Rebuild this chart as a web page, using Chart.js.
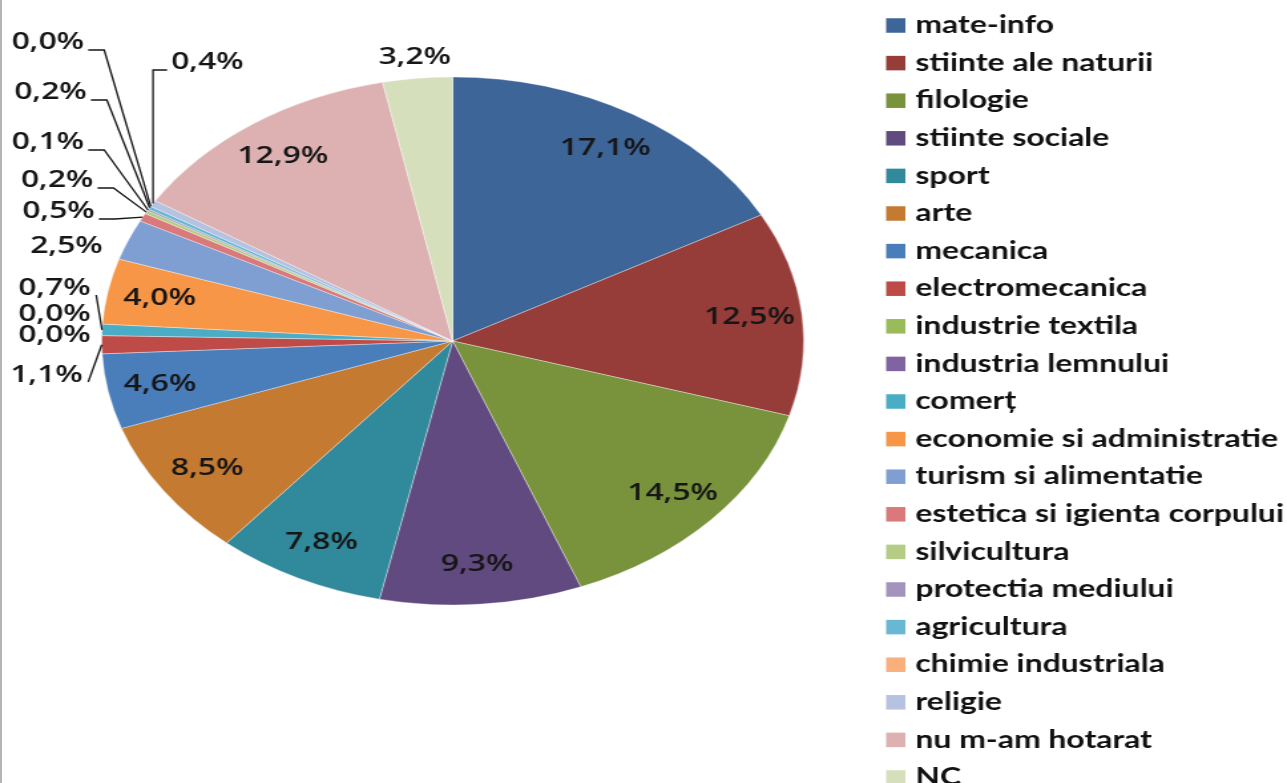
<!DOCTYPE html>
<html lang="ro">
<head>
<meta charset="utf-8">
<title>Optiuni elevi</title>
<script src="https://cdn.jsdelivr.net/npm/chart.js@4.4.1/dist/chart.umd.min.js"></script>
<style>
    html, body { margin: 0; padding: 0; background: #fff; overflow: hidden; }
    #cadru { position: relative; width: 1287px; height: 783px; }
    #margine { position: absolute; left: 0; top: 0; width: 2px; height: 783px; background: #b4b4b4; }
    /* imaginea originala e intinsa pe orizontala, o intindem si noi */
    #grafic { position: absolute; left: 0; top: 0; transform: scaleX(1.3295); transform-origin: 0 0; }
</style>
</head>
<body>
<div id="cadru">
    <canvas id="grafic" width="968" height="783"></canvas>
    <div id="margine"></div>
</div>
<script>
// Date
const categorii = [
    'mate-info', 'stiinte ale naturii', 'filologie', 'stiinte sociale', 'sport', 'arte',
    'mecanica', 'electromecanica', 'industrie textila', 'industria lemnului', 'comerț',
    'economie si administratie', 'turism si alimentatie', 'estetica si igienta corpului',
    'silvicultura', 'protectia mediului', 'agricultura', 'chimie industriala', 'religie',
    'nu m-am hotarat', 'NC'
];
const procente = [17.1, 12.5, 14.5, 9.3, 7.8, 8.5, 4.6, 1.1, 0.0, 0.0, 0.7, 4.0, 2.5, 0.5, 0.2, 0.1, 0.2, 0.0, 0.4, 12.9, 3.2];
const culori = [
    '#3d6597', '#963c39', '#78933c', '#614a80', '#31899c', '#c47a31',
    '#4a7ebb', '#bf4b48', '#9abb59', '#8064a2', '#4bacc6',
    '#f79646', '#7f9fd2', '#d9797b',
    '#b4cc84', '#a393bd', '#69b8d3', '#f9b07c', '#b5c2e0',
    '#ddb1b1', '#d5dfbc'
];
const etichete = procente.map(v => v.toFixed(1).replace('.', ',') + '%');

// Etichete puse in afara feliei (coordonate in canvas, inainte de intindere)
const eticheteExterioare = {
    7:  { x: 35, y: 375, linie: 'direct' },
    8:  { x: 41, y: 335 },
    9:  { x: 41, y: 314 },
    10: { x: 41, y: 288, linie: 'direct' },
    12: { x: 50, y: 246 },
    13: { x: 44, y: 211, linie: 'cot' },
    14: { x: 43, y: 180, linie: 'cot' },
    15: { x: 36, y: 142, linie: 'cot' },
    16: { x: 38, y: 92, linie: 'cot' },
    17: { x: 36, y: 42, linie: 'cot' },
    18: { x: 156, y: 62, linie: 'cotStanga' },
    20: { x: 312, y: 57 }
};

// Legenda desenata manual (iese din canvas jos, ca in original)
const legenda = { x: 666.5, sus: 24.5, pas: 37.6, latura: 14.5 };

const pluginEtichete = {
    id: 'etichete',
    afterDatasetsDraw(chart) {
        const ctx = chart.ctx;
        const meta = chart.getDatasetMeta(0);
        ctx.save();
        ctx.font = '600 24px "Open Sans"';
        ctx.fillStyle = '#161616';
        ctx.strokeStyle = '#161616';
        ctx.lineWidth = 1.3;
        ctx.textAlign = 'center';
        ctx.textBaseline = 'middle';

        meta.data.forEach((arc, i) => {
            const p = arc.getProps(['x', 'y', 'startAngle', 'endAngle', 'outerRadius'], true);
            const mijloc = (p.startAngle + p.endAngle) / 2;
            const text = etichete[i];
            const ext = eticheteExterioare[i];

            if (!ext) {
                const r = p.outerRadius * 0.85;
                ctx.fillText(text, p.x + Math.cos(mijloc) * r, p.y + Math.sin(mijloc) * r);
                return;
            }

            ctx.fillText(text, ext.x, ext.y);
            if (!ext.linie) return;

            const w = ctx.measureText(text).width;
            const px = p.x + Math.cos(mijloc) * p.outerRadius;
            const py = p.y + Math.sin(mijloc) * p.outerRadius;
            ctx.beginPath();
            ctx.moveTo(px, py);
            if (ext.linie === 'cot') {
                const ax = ext.x + w / 2 + 3;
                const ay = ext.y + 8;
                ctx.lineTo(ax + 12, ay);
                ctx.lineTo(ax, ay);
            } else if (ext.linie === 'cotStanga') {
                const ax = ext.x - w / 2 - 3;
                const ay = ext.y + 8;
                ctx.lineTo(px, ay);
                ctx.lineTo(ax, ay);
            } else {
                ctx.lineTo(ext.x + w / 2 + 4, ext.y + 7);
            }
            ctx.stroke();
        });
        ctx.restore();
    }
};

const pluginLegenda = {
    id: 'legenda',
    afterDraw(chart) {
        const ctx = chart.ctx;
        ctx.save();
        ctx.font = 'bold 24px Lato';
        ctx.textAlign = 'left';
        ctx.textBaseline = 'middle';
        categorii.forEach((nume, i) => {
            const y = legenda.sus + i * legenda.pas;
            ctx.fillStyle = culori[i];
            ctx.fillRect(legenda.x, y - legenda.latura / 2 + 1, legenda.latura, legenda.latura);
            ctx.fillStyle = '#111';
            ctx.fillText(nume, legenda.x + 22, y + 1);
        });
        ctx.restore();
    }
};

const ctx = document.getElementById('grafic');
new Chart(ctx, {
    type: 'pie',
    data: {
        labels: categorii,
        datasets: [{
            data: procente,
            backgroundColor: culori,
            borderColor: 'rgba(255, 255, 255, 0.35)',
            borderWidth: 1
        }]
    },
    options: {
        responsive: false,
        animation: false,
        radius: 264,
        layout: {
            padding: { left: 76, top: 77, right: 363, bottom: 178 }
        },
        plugins: {
            legend: { display: false },
            tooltip: { enabled: false }
        }
    },
    plugins: [pluginEtichete, pluginLegenda]
});
</script>
</body>
</html>
